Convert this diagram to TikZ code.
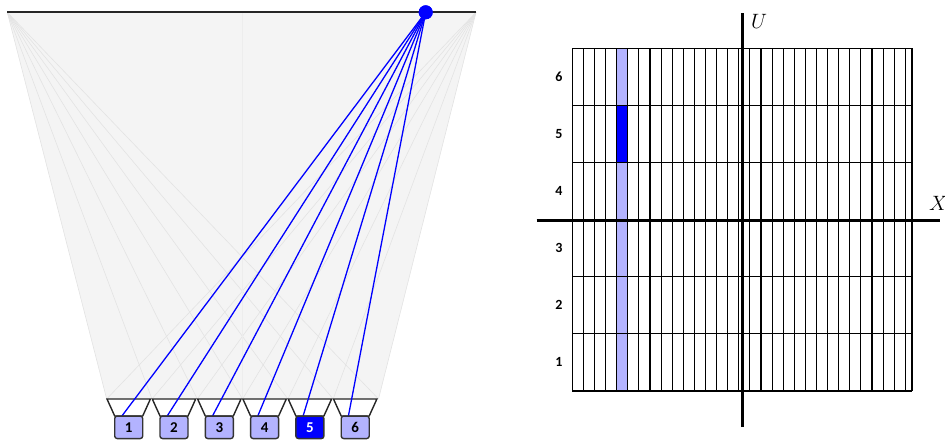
\documentclass[tikz,border=0pt]{standalone}
\usepackage{fontspec}
\setmainfont{Carlito}
\definecolor{detblue}{HTML}{B3B3FF}
\definecolor{bgray}{HTML}{F4F4F4}
\begin{document}
\begin{tikzpicture}[x=1pt,y=-1pt,
  fan/.style={draw=black!11, line width=0.6pt},
  ray/.style={draw=blue, line width=1.3pt},
  detbox/.style={draw=black!80, line width=1.4pt, fill=detblue, rounded corners=2.5pt,
    minimum width=28pt, minimum height=22.5pt, inner sep=0pt,
    font=\fontsize{15}{15}\selectfont\bfseries},
  funnel/.style={draw=black!85, line width=1.4pt, fill=white},
  gridline/.style={draw=black, line width=1.1pt},
  rowlab/.style={font=\fontsize{14}{14}\selectfont\bfseries, inner sep=0pt},
  axislab/.style={font=\fontsize{22}{24}\selectfont, inner sep=0pt},
  axis/.style={draw=black, line width=2.6pt}]
\useasboundingbox (0,0) rectangle (945,443);

% ---------- left: fan geometry ----------
\coordinate (tl) at (7.3,12.3);
\coordinate (tr) at (476,12.3);
\foreach \i in {0,...,6} {\coordinate (b\i) at ({106.7+45.3*\i},399);}
\fill[bgray] (tl) -- (tr) -- (b6) -- (b0) -- cycle;
\foreach \i in {0,...,6} {
  \draw[fan] (tl) -- (b\i);
  \draw[fan] (tr) -- (b\i);
}
\coordinate (vtop) at (242.6,12.3);
\draw[fan, draw=black!7] (vtop) -- (b3);
\draw[black!85, line width=1.6pt] (tl) -- (tr);

% funnels
\foreach \k in {1,...,6} {
  \pgfmathsetmacro{\cx}{128.7+45.3*(\k-1)}
  \draw[funnel] ({\cx-21.7},399) -- ({\cx+21.7},399) -- ({\cx+14},416) -- ({\cx-14},416) -- cycle;
  \coordinate (e\k) at ({\cx-6.8},416);
}

% source and rays
\node[circle, fill=blue, minimum size=14pt, inner sep=0pt] (src) at (425.7,12.3) {};
\foreach \k in {1,...,6} {\draw[ray] (src.center) -- (e\k);}
\node[circle, fill=blue, minimum size=14pt, inner sep=0pt] at (src) {};

% detector boxes
\foreach \k in {1,2,3,4,6} {
  \node[detbox] (d\k) at ({128.7+45.3*(\k-1)},427.3) {\k};
}
\node[detbox, fill=blue, text=white] (d5) at ({128.7+45.3*4},427.3) {5};

% ---------- right: sinogram grid ----------
\fill[detblue] (616.7,48.3) rectangle (627.8,391);
\fill[blue] (616.7,105.4) rectangle (627.8,162.5);
\foreach \k in {0,...,30} {\draw[gridline] ({572.3+11.1*\k},48.3) -- ({572.3+11.1*\k},391);}
\draw[gridline] (912,48.3) -- (912,391);
\foreach \k in {0,...,6} {\draw[gridline] (572.3,{48.3+57.12*\k}) -- (912,{48.3+57.12*\k});}

\foreach \k in {1,...,6} {
  \node[rowlab] (r\k) at (559,{391-57.12*(\k-0.5)}) {\k};
}

% axes
\coordinate (utop) at (742.3,13);
\coordinate (ubot) at (742.3,427);
\coordinate (xl) at (536.7,220.6);
\coordinate (xr) at (940,220.6);
\draw[axis] (ubot) -- (utop);
\draw[axis] (xl) -- (xr);
\node[axislab] (U) at (759,21) {$U$};
\node[axislab, anchor=west] (X) at (929,203) {$X$};
\end{tikzpicture}
\end{document}
